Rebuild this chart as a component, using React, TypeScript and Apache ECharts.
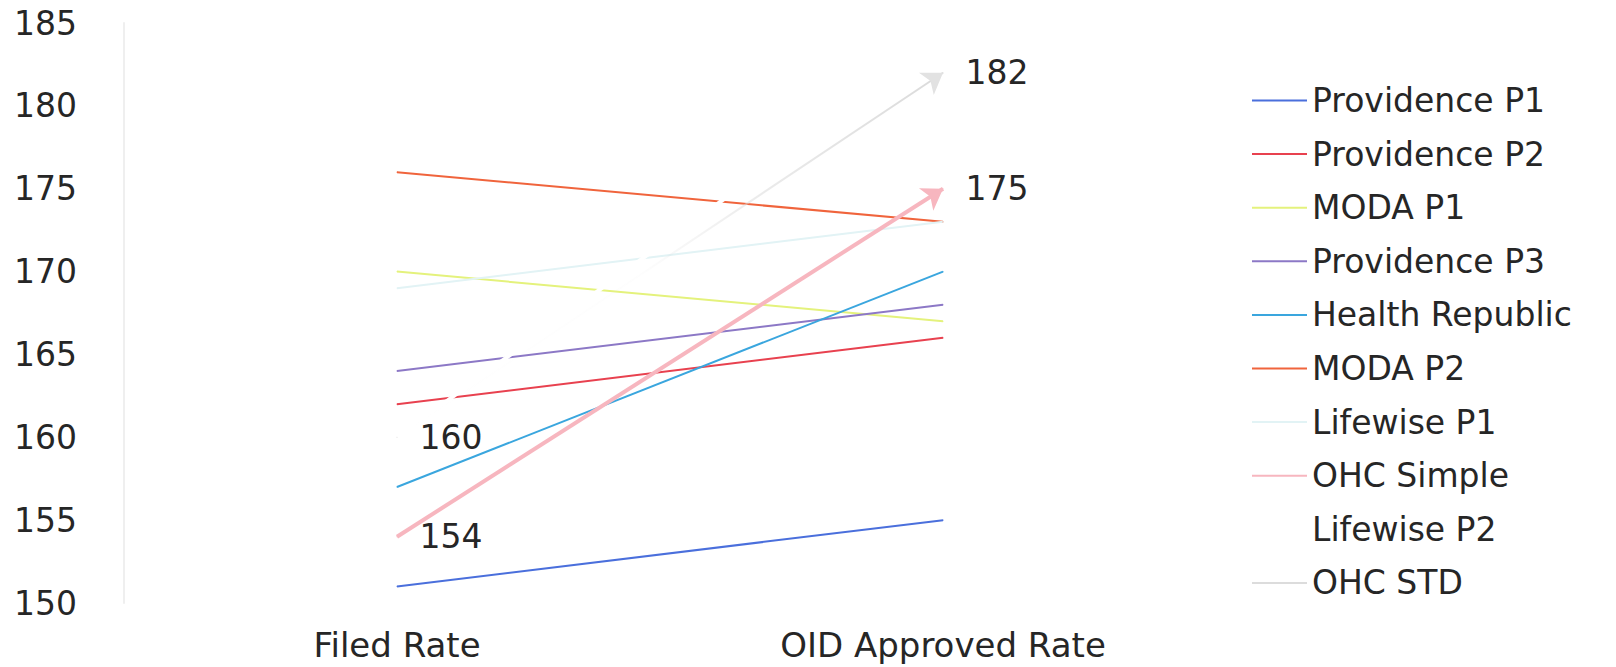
import { useEffect, useRef } from 'react';
import * as echarts from 'echarts';

const categories = ['Filed Rate', 'OID Approved Rate'];
const yMin = 150;
const yMax = 185;
const yStep = 5;

const seriesNames = [
  'Providence P1',
  'Providence P2',
  'MODA P1',
  'Providence P3',
  'Health Republic',
  'MODA P2',
  'Lifewise P1',
  'OHC Simple',
  'Lifewise P2',
  'OHC STD',
];

const providenceP1 = [151, 155];
const providenceP2 = [162, 166];
const modaP1 = [170, 167];
const providenceP3 = [164, 168];
const healthRepublic = [157, 170];
const modaP2 = [176, 173];
const lifewiseP1 = [169, 173];
const ohcSimple = [154, 175];
const lifewiseP2 = [160, 184];
const ohcStd = [160, 182];

const FONT = '"DejaVu Sans", "Open Sans", sans-serif';
const TEXT = '#262626';

function lineSeries(name: string, data: number[], color: any, itemColor: string, width: number, z: number, extra: any = {}) {
  return {
    type: 'line',
    name,
    data,
    z,
    symbol: 'circle',
    symbolSize: 1,
    showSymbol: true,
    itemStyle: { color: itemColor },
    lineStyle: { color, width },
    emphasis: { disabled: true },
    label: { show: false },
    ...extra,
  };
}

const dataLabel = {
  show: true,
  position: 'right',
  distance: 22,
  fontSize: 33,
  color: TEXT,
  fontFamily: FONT,
};

function arrow(data: number[], color: string) {
  return {
    silent: true,
    symbol: ['none', 'arrow'],
    symbolSize: 20,
    label: { show: false },
    emphasis: { disabled: true },
    lineStyle: { color, width: 0, type: 'solid' },
    data: [[{ coord: [categories[0], data[0]] }, { coord: [categories[1], data[1]] }]],
  };
}

export default function App() {
  const ref = useRef<HTMLDivElement>(null);
  useEffect(() => {
    if (!ref.current) return;
    const chart = echarts.init(ref.current, null, { renderer: 'svg' });
    const stdGradient = new echarts.graphic.LinearGradient(0, 0, 1, 0, [
      { offset: 0, color: 'rgba(220,220,220,0)' },
      { offset: 0.45, color: 'rgba(220,220,220,0.05)' },
      { offset: 0.65, color: 'rgba(220,220,220,0.55)' },
      { offset: 1, color: 'rgba(218,218,218,1)' },
    ]);
    chart.setOption({
      animation: false,
      backgroundColor: '#ffffff',
      grid: { left: 124, right: 400, top: 23, bottom: 64, containLabel: false },
      legend: {
        orient: 'vertical',
        left: 1247,
        top: 79,
        itemWidth: 55,
        itemHeight: 33,
        itemGap: 20.6,
        icon: 'path://M0,0H110V4H0Z',
        selectedMode: false,
        textStyle: { fontSize: 33, color: TEXT, fontFamily: FONT },
        data: seriesNames,
      },
      xAxis: {
        type: 'category',
        data: categories,
        boundaryGap: true,
        axisLine: { show: false },
        axisTick: { show: false },
        splitLine: { show: false },
        axisLabel: { margin: 24, fontSize: 34, lineHeight: 36, color: TEXT, fontFamily: FONT },
      },
      yAxis: {
        type: 'value',
        min: yMin,
        max: yMax,
        interval: yStep,
        axisLine: { show: true, lineStyle: { color: '#efefef', width: 2 } },
        axisTick: { show: false },
        splitLine: { show: false },
        axisLabel: { margin: 47, fontSize: 33, color: TEXT, fontFamily: FONT },
      },
      series: [
        lineSeries(seriesNames[0], providenceP1, '#4a6fdc', '#4a6fdc', 2, 2),
        lineSeries(seriesNames[1], providenceP2, '#e8414f', '#e8414f', 2, 2),
        lineSeries(seriesNames[2], modaP1, '#e4f27c', '#e4f27c', 2, 2),
        lineSeries(seriesNames[3], providenceP3, '#8c78c6', '#8c78c6', 2, 2),
        lineSeries(seriesNames[4], healthRepublic, '#3aa6de', '#3aa6de', 2, 2),
        lineSeries(seriesNames[5], modaP2, '#f0643c', '#f0643c', 2, 2),
        lineSeries(seriesNames[6], lifewiseP1, '#e2f3f5', '#e2f3f5', 2, 2),
        lineSeries(seriesNames[7], ohcSimple, '#f7b6bf', '#f7b6bf', 4, 5, {
          label: dataLabel,
          markLine: arrow(ohcSimple, '#f7b6bf'),
        }),
        lineSeries(seriesNames[8], lifewiseP2, '#ffffff', '#ffffff', 4, 3),
        lineSeries(seriesNames[9], ohcStd, stdGradient, '#dcdcdc', 2, 4, {
          label: dataLabel,
          markLine: arrow(ohcStd, '#e2e2e2'),
        }),
      ],
    });
    return () => chart.dispose();
  }, []);
  return (
    <div
      ref={ref}
      style={{ position: 'absolute', left: 0, top: 0, width: 1616, height: 667, background: '#fff' }}
    />
  );
}
